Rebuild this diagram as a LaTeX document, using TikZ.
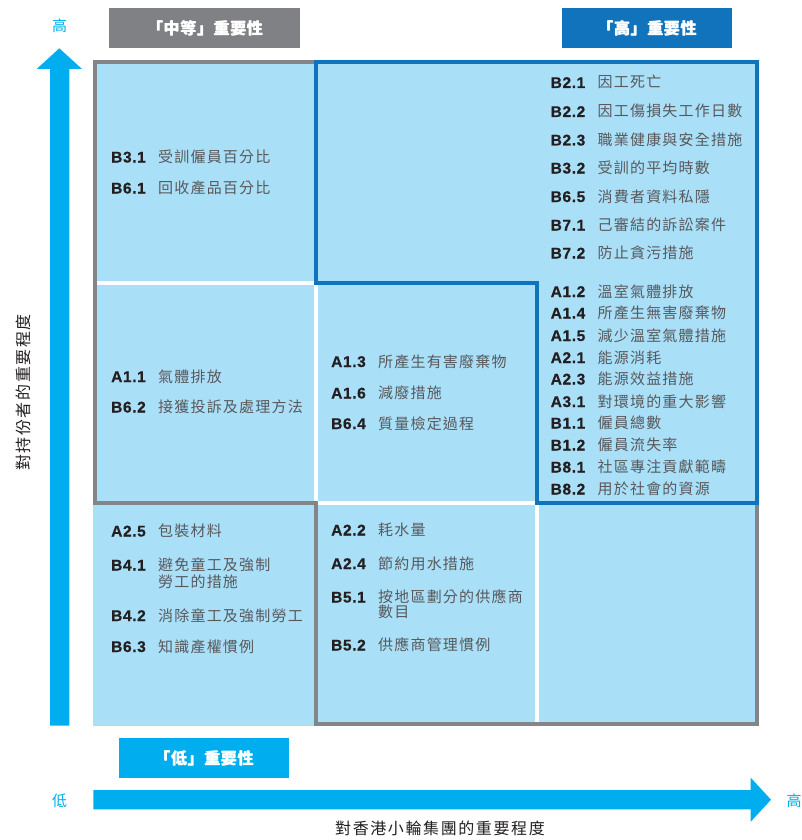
\documentclass[tikz,border=0pt]{standalone}
\usepackage{fontspec}
\setmainfont{Liberation Sans}
\newfontfamily\cjk{Noto Sans CJK TC}
\newfontfamily\cjkhdr[LetterSpace=4]{Noto Sans CJK TC}
\newfontfamily\cjkls[LetterSpace=8]{Noto Sans CJK TC}
\newfontfamily\cjkax[LetterSpace=10]{Noto Sans CJK TC}
\newfontfamily\codef[LetterSpace=4,BoldFeatures={FakeBold=0.5}]{Liberation Sans}
\definecolor{cellblue}{RGB}{170,223,248}
\definecolor{linegrey}{RGB}{132,133,137}
\definecolor{hdrgrey}{RGB}{128,129,132}
\definecolor{hiblue}{RGB}{17,115,187}
\definecolor{cyanax}{RGB}{0,174,239}
\definecolor{codeblack}{RGB}{35,31,32}
\definecolor{txtgrey}{RGB}{88,89,91}
\tikzset{
  cell/.style={fill=cellblue, draw=none},
  codetxt/.style={inner sep=0pt, anchor=base west, text=codeblack, font=\codef\bfseries\fontsize{15.5}{16}\selectfont},
  cntxt/.style={inner sep=0pt, anchor=base west, text=txtgrey, font=\cjkls\fontsize{15}{16}\selectfont},
  hdr/.style={inner sep=0pt, text=white, font=\cjkhdr\bfseries\fontsize{16}{18}\selectfont},
  axend/.style={inner sep=0pt, text=cyanax, font=\cjk\fontsize{15}{16}\selectfont},
  axlabel/.style={inner sep=0pt, text=codeblack, font=\cjkax\fontsize{16}{18}\selectfont},
}
% entry: name, x, y(center), code, text
\newcommand\matent[5]{%
  \node[codetxt] (#1) at (#2,#3+5.5) {#4};
  \node[cntxt] (#1t) at (#2+47,#3+5.5) {#5};
}
\newcommand\matcont[4]{%
  \node[cntxt] (#1) at (#2+47,#3+5.5) {#4};
}
% heavier header text: the same text set twice with a tiny offset
\newcommand\hdrtext[4]{%
  \node[hdr] (#1) at (#2-0.25,#3) {#4};
  \node[hdr] (#1a) at (#2+0.25,#3) {#4};
}
\begin{document}
\begin{tikzpicture}[x=1pt,y=-1pt]
\useasboundingbox (0,0) rectangle (802,840);
\fill[white] (0,0) rectangle (802,840);

% cells
\fill[cell] (93.3,60) rectangle (314,280.5);
\fill[cell] (93.3,284.5) rectangle (314,500.5);
\fill[cell] (318,284.5) rectangle (535,500.5);
\fill[cell] (93.3,504.5) rectangle (314,726);
\fill[cell] (318,504.5) rectangle (535,726);
\fill[cell] (539,504.5) rectangle (759.3,726);
% high region, one merged area
\fill[cell] (316,60) -- (759.3,60) -- (759.3,502.5) -- (537,502.5) -- (537,282.5) -- (316,282.5) -- cycle;

% outlines
\draw[linegrey, line width=4] (316,62) -- (95.3,62) -- (95.3,502.5) -- (316,502.5) -- (316,723.5) -- (757,723.5) -- (757,502.5);
\draw[hiblue, line width=4] (316,62) -- (757,62) -- (757,502.5) -- (537,502.5) -- (537,282.5) -- (316,282.5) -- cycle;

% headers
\fill[hdrgrey] (109,8) rectangle (300,47.7);
\hdrtext{hmed}{205}{28.5}{「中等」重要性}
\fill[hiblue] (562,8) rectangle (731.7,47.7);
\hdrtext{hhigh}{647}{28.5}{「高」重要性}
\fill[cyanax] (119,738) rectangle (288.7,777.7);
\hdrtext{hlow}{204}{758.5}{「低」重要性}

% vertical arrow
\fill[cyanax] (50,725.7) -- (50,69) -- (36.7,69) -- (59.3,48.3) -- (82,69) -- (69.3,69) -- (69.3,725.7) -- cycle;
\node[axend] (vhigh) at (59.5,26) {高};
\node[axlabel, rotate=90] (ylab) at (23,392.5) {對持份者的重要程度};

% horizontal arrow
\fill[cyanax] (93.3,790) -- (750.7,790) -- (750.7,777.7) -- (771,799.7) -- (750.7,821.7) -- (750.7,809.3) -- (93.3,809.3) -- cycle;
\node[axend] (hlowl) at (59.7,800.5) {低};
\node[axend] (hhighl) at (794,800.5) {高};
\node[axlabel] (xlab) at (440,828.5) {對香港小輪集團的重要程度};

% column 1 row 1
\matent{e1}{111}{157}{B3.1}{受訓僱員百分比}
\matent{e2}{111}{188}{B6.1}{回收產品百分比}
% column 1 row 2
\matent{e3}{111}{376.5}{A1.1}{氣體排放}
\matent{e4}{111}{407}{B6.2}{接獲投訴及處理方法}
% column 1 row 3
\matent{e5}{111}{531}{A2.5}{包裝材料}
\matent{e6}{111}{565}{B4.1}{避免童工及強制}
\matcont{e6b}{111}{581.5}{勞工的措施}
\matent{e7}{111}{615.5}{B4.2}{消除童工及強制勞工}
\matent{e8}{111}{646.5}{B6.3}{知識產權慣例}
% column 2 row 2
\matent{e9}{331}{361.5}{A1.3}{所產生有害廢棄物}
\matent{e10}{331}{393}{A1.6}{減廢措施}
\matent{e11}{331}{423.5}{B6.4}{質量檢定過程}
% column 2 row 3
\matent{e12}{331}{530}{A2.2}{耗水量}
\matent{e13}{331}{563.5}{A2.4}{節約用水措施}
\matent{e14}{331}{597}{B5.1}{按地區劃分的供應商}
\matcont{e14b}{331}{612}{數目}
\matent{e15}{331}{645}{B5.2}{供應商管理慣例}
% column 3 row 1
\matent{e16}{550.5}{82.5}{B2.1}{因工死亡}
\matent{e17}{550.5}{111.5}{B2.2}{因工傷損失工作日數}
\matent{e18}{550.5}{140}{B2.3}{職業健康與安全措施}
\matent{e19}{550.5}{168}{B3.2}{受訓的平均時數}
\matent{e20}{550.5}{196.5}{B6.5}{消費者資料私隱}
\matent{e21}{550.5}{225}{B7.1}{己審結的訴訟案件}
\matent{e22}{550.5}{253}{B7.2}{防止貪污措施}
% column 3 row 2
\matent{e23}{550.5}{291.5}{A1.2}{溫室氣體排放}
\matent{e24}{550.5}{313}{A1.4}{所產生無害廢棄物}
\matent{e25}{550.5}{335.5}{A1.5}{減少溫室氣體措施}
\matent{e26}{550.5}{357.5}{A2.1}{能源消耗}
\matent{e27}{550.5}{379}{A2.3}{能源效益措施}
\matent{e28}{550.5}{401.5}{A3.1}{對環境的重大影響}
\matent{e29}{550.5}{423}{B1.1}{僱員總數}
\matent{e30}{550.5}{445}{B1.2}{僱員流失率}
\matent{e31}{550.5}{467}{B8.1}{社區專注貢獻範疇}
\matent{e32}{550.5}{489}{B8.2}{用於社會的資源}
\end{tikzpicture}
\end{document}
